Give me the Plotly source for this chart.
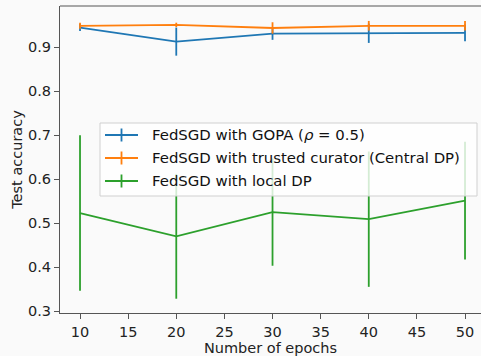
import plotly.graph_objects as go

epochs = [10, 20, 30, 40, 50]
gopa_acc = [0.945, 0.913, 0.931, 0.932, 0.933]
gopa_err = [0.008, 0.032, 0.014, 0.022, 0.019]
central_acc = [0.949, 0.951, 0.944, 0.949, 0.949]
central_err = [0.007, 0.005, 0.013, 0.011, 0.011]
local_acc = [0.523, 0.470, 0.525, 0.509, 0.551]
local_err = [0.177, 0.142, 0.122, 0.154, 0.134]

names = ["FedSGD with GOPA (<i>ρ</i> = 0.5)",
         "FedSGD with trusted curator (Central DP)",
         "FedSGD with local DP"]
colors = ["#1f77b4", "#ff7f0e", "#2ca02c"]
series = [(gopa_acc, gopa_err), (central_acc, central_err), (local_acc, local_err)]

W, H = 481, 356
L, R, T, B = 60, 481, 6, 313
FONT = "DejaVu Sans"
FS = 14.5

fig = go.Figure()
for (acc, err), name, c in zip(series, names, colors):
    fig.add_trace(go.Scatter(
        x=epochs, y=acc, mode="lines", name=name,
        line=dict(color=c, width=1.8),
        error_y=dict(type="data", array=err, visible=True, color=c, thickness=1.8, width=0),
        showlegend=False))

def px_x(p):
    return (p - L) / (R - L)

def px_y(p):
    return (B - p) / (B - T)

shapes = []
annotations = []
# legend box
shapes.append(dict(type="rect", xref="paper", yref="paper",
                   x0=px_x(100), x1=px_x(477), y0=px_y(196), y1=px_y(123),
                   fillcolor="rgba(255,255,255,0.8)", line=dict(color="#d0d0d0", width=1),
                   layer="above"))
entry_y = [135, 158, 181]
for name, c, ey in zip(names, colors, entry_y):
    shapes.append(dict(type="line", xref="paper", yref="paper",
                       x0=px_x(105), x1=px_x(138), y0=px_y(ey), y1=px_y(ey),
                       line=dict(color=c, width=1.8), layer="above"))
    shapes.append(dict(type="line", xref="paper", yref="paper",
                       x0=px_x(121.5), x1=px_x(121.5), y0=px_y(ey - 6.5), y1=px_y(ey + 6.5),
                       line=dict(color=c, width=1.8), layer="above"))
    annotations.append(dict(xref="paper", yref="paper", x=px_x(150), y=px_y(ey),
                            text=name, showarrow=False, xanchor="left", yanchor="middle",
                            font=dict(family=FONT, size=14.9, color="#111")))

fig.update_layout(
    width=W, height=H,
    margin=dict(l=L, r=W - R, t=T, b=H - B, autoexpand=False),
    paper_bgcolor="#fafafa", plot_bgcolor="#fafafa",
    font=dict(family=FONT, size=FS, color="#222"),
    shapes=shapes, annotations=annotations,
    xaxis=dict(range=[7.92, 51.66], tickmode="array", tickvals=[10, 15, 20, 25, 30, 35, 40, 45, 50],
               automargin=False,
               showgrid=False, zeroline=False, showline=True, linecolor="#555", linewidth=1.2,
               mirror=False, ticks="outside", ticklen=5, tickcolor="#555",
               title=dict(text="Number of epochs", standoff=4, font=dict(size=FS))),
    yaxis=dict(range=[0.2955, 0.994], tickmode="array", tickvals=[0.3, 0.4, 0.5, 0.6, 0.7, 0.8, 0.9],
               tickformat=".1f", automargin=False,
               showgrid=False, zeroline=False, showline=True, linecolor="#555", linewidth=1.2,
               ticks="outside", ticklen=5, tickcolor="#555",
               title=dict(text="Test accuracy", standoff=1, font=dict(size=FS))),
)
# top spine
fig.add_shape(type="line", xref="paper", yref="paper", x0=0, x1=1, y0=1, y1=1,
              line=dict(color="#555", width=1.2))

fig.write_html("out.html", config={"displayModeBar": False},
               post_script="document.body.style.margin='0px';document.body.style.background='#fafafa';")
